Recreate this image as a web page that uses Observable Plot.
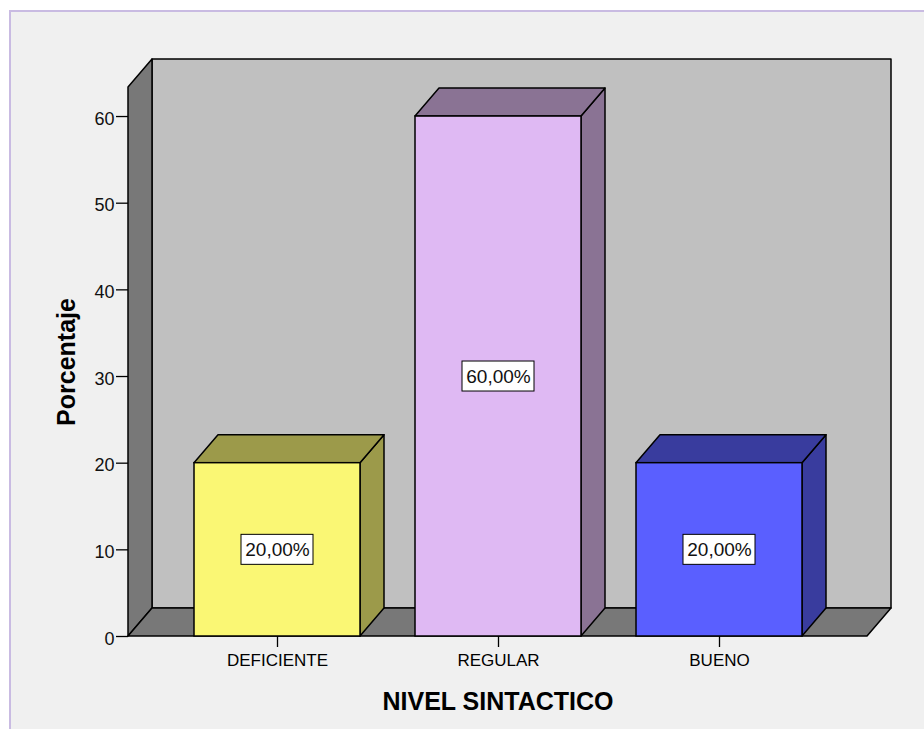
<!DOCTYPE html>
<html>
<head>
<meta charset="utf-8">
<script src="https://cdn.jsdelivr.net/npm/d3@7"></script>
<script src="https://cdn.jsdelivr.net/npm/@observablehq/plot@0.6"></script>
<style>
  html, body { margin: 0; padding: 0; background: #ffffff; }
  #wrap { position: relative; width: 924px; height: 729px; overflow: hidden; }
  #panel { position: absolute; left: 9px; top: 10px; width: 960px; height: 760px;
           background: #f0f0f0; border-left: 2px solid #c9bbe2; border-top: 2px solid #c9bbe2; }
  #chart { position: absolute; left: 0; top: 0; }
</style>
</head>
<body>
<div id="wrap"><div id="panel"></div><div id="chart"></div></div>
<script>
// ---- data ----
const categories = ["DEFICIENTE", "REGULAR", "BUENO"];
const percentages = [20, 60, 20];
const yTicks = [0, 10, 20, 30, 40, 50, 60];
const frontColors = ["#faf774", "#dfb9f3", "#5a5fff"];
const sideColors = ["#9c9a4a", "#8a7394", "#393c9e"];
const xTitle = "NIVEL SINTACTICO";
const yTitle = "Porcentaje";

const rows = categories.map((c, i) => ({cat: c, value: percentages[i], front: frontColors[i], side: sideColors[i]}));

// ---- style constants ----
const DX = 24, DY = -28; // 3D depth offset (pixels)
const FONT = "'Liberation Sans', Arial, Helvetica, sans-serif";
const fmt = v => v.toFixed(2).replace(".", ",") + "%";

function walls(index, scales, values, dim) {
  const y = scales.y;
  const L = dim.marginLeft, R = dim.width - dim.marginRight;
  const B = y(0), T = dim.marginTop;
  const g = d3.create("svg:g").attr("stroke", "#000").attr("stroke-width", 1.5).attr("stroke-linejoin", "round");
  g.append("rect").attr("x", L + DX).attr("y", T + DY).attr("width", R - L).attr("height", B - T).attr("fill", "#c0c0c0");
  g.append("path").attr("fill", "#787878").attr("d", `M${L},${B}L${L},${T}L${L + DX},${T + DY}L${L + DX},${B + DY}Z`);
  g.append("path").attr("fill", "#787878").attr("d", `M${L},${B}L${R},${B}L${R + DX},${B + DY}L${L + DX},${B + DY}Z`);
  return g.node();
}

function barDepth(index, scales, values, dim) {
  const x = scales.x, y = scales.y;
  const bw = typeof x.bandwidth === "function" ? x.bandwidth() : x.bandwidth;
  const g = d3.create("svg:g").attr("stroke", "#000").attr("stroke-width", 1.5).attr("stroke-linejoin", "round");
  for (const d of rows) {
    const x0 = x(d.cat), x1 = x0 + bw, yt = y(d.value), yb = y(0);
    g.append("path").attr("fill", d.side)
      .attr("d", `M${x1},${yb}L${x1},${yt}L${x1 + DX},${yt + DY}L${x1 + DX},${yb + DY}Z`);
    g.append("path").attr("fill", d.side)
      .attr("d", `M${x0},${yt}L${x0 + DX},${yt + DY}L${x1 + DX},${yt + DY}L${x1},${yt}Z`);
  }
  return g.node();
}

const chart = Plot.plot({
  width: 924,
  height: 729,
  marginLeft: 128,
  marginRight: 57,
  marginTop: 87,
  marginBottom: 93,
  style: {background: "transparent", fontFamily: FONT, color: "#000", overflow: "visible"},
  x: {domain: categories, paddingInner: 0.25, paddingOuter: 0.293, axis: null},
  y: {domain: [0, 63.35], axis: null},
  color: {type: "identity"},
  marks: [
    walls,
    barDepth,
    Plot.barY(rows, {x: "cat", y: "value", fill: "front", stroke: "#000", strokeWidth: 1.5}),
    Plot.barY(rows, {x: "cat", y1: d => d.value / 2, y2: d => d.value / 2,
      insetTop: -15, insetBottom: -15, insetLeft: 47, insetRight: 47,
      fill: "#ffffff", stroke: "#000", strokeWidth: 1}),
    Plot.text(rows, {x: "cat", y: d => d.value / 2, text: d => fmt(d.value),
      fontSize: 19, fill: "#111", fontFamily: FONT}),
    Plot.axisY({ticks: yTicks, tickSize: 12, tickFormat: () => "", label: null, stroke: "#000", strokeWidth: 1.3}),
    Plot.text(yTicks, {y: d => d, text: d => String(d), frameAnchor: "left", textAnchor: "end",
      dx: -14, dy: 2.5, fontSize: 18, fill: "#111", fontFamily: FONT}),
    Plot.axisX({tickSize: 11, tickPadding: 6, fontSize: 17, label: null, stroke: "#000", strokeWidth: 1.3, fontFamily: FONT}),
    Plot.text([xTitle], {frameAnchor: "bottom", lineAnchor: "middle", textAnchor: "middle", dy: 65,
      text: d => d, fontSize: 25, fontWeight: "bold", fontFamily: FONT, fill: "#000"}),
    Plot.text([yTitle], {frameAnchor: "left", lineAnchor: "middle", textAnchor: "middle", dx: -62, rotate: -90,
      text: d => d, fontSize: 25, fontWeight: "bold", fontFamily: FONT, fill: "#000"})
  ]
});
document.getElementById("chart").appendChild(chart);
</script>
</body>
</html>
